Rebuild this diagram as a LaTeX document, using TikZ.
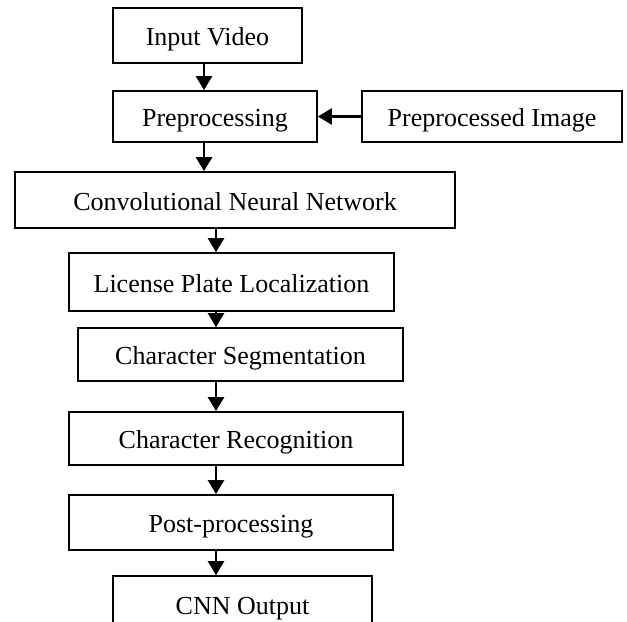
\documentclass[tikz,border=0pt]{standalone}
\usepackage{fontspec}
\setmainfont{Liberation Serif}
\usetikzlibrary{arrows.meta}
\begin{document}
\begin{tikzpicture}[x=0.75pt,y=-0.75pt,
  box/.style={draw=black,line width=1.3pt,inner sep=0pt,anchor=center,align=center,
    text height=17.25pt,text depth=2.25pt,
    font=\fontsize{19.5pt}{22pt}\selectfont},
  arr/.style={line width=2pt,-{Triangle[length=10.5pt,width=12pt]}}]
\clip (0,0) rectangle (627,621);
\fill[white] (0,0) rectangle (627,621);
\node[box,minimum width=189*0.75pt,minimum height=55*0.75pt] (iv) at (207.5,35.5) {Input Video};
\node[box,minimum width=204*0.75pt,minimum height=51*0.75pt] (pre) at (215,116.5) {Preprocessing};
\node[box,minimum width=260*0.75pt,minimum height=51*0.75pt] (pimg) at (492,116.5) {Preprocessed Image};
\node[box,minimum width=440*0.75pt,minimum height=56*0.75pt] (cnn) at (235,200) {Convolutional Neural Network};
\node[box,minimum width=325*0.75pt,minimum height=58*0.75pt] (lpl) at (231.5,282) {License Plate Localization};
\node[box,minimum width=325*0.75pt,minimum height=53*0.75pt] (cs) at (240.5,354.5) {Character Segmentation};
\node[box,minimum width=334*0.75pt,minimum height=53*0.75pt] (cr) at (236,438.5) {Character Recognition};
\node[box,minimum width=324*0.75pt,minimum height=55*0.75pt] (pp) at (231,522.5) {Post-processing};
\node[box,minimum width=259*0.75pt,minimum height=56*0.75pt] (out) at (242.5,604) {CNN Output};
\coordinate (axa) at (204,0);
\coordinate (axb) at (216,0);
\draw[arr] (iv.south -| axa) -- (pre.north -| axa);
\draw[arr] (pre.south -| axa) -- (cnn.north -| axa);
\draw[arr] (pimg.west) -- (pre.east);
\draw[arr] (cnn.south -| axb) -- (lpl.north -| axb);
\draw[arr] (lpl.south -| axb) -- (cs.north -| axb);
\draw[arr] (cs.south -| axb) -- (cr.north -| axb);
\draw[arr] (cr.south -| axb) -- (pp.north -| axb);
\draw[arr] (pp.south -| axb) -- (out.north -| axb);
\end{tikzpicture}
\end{document}
